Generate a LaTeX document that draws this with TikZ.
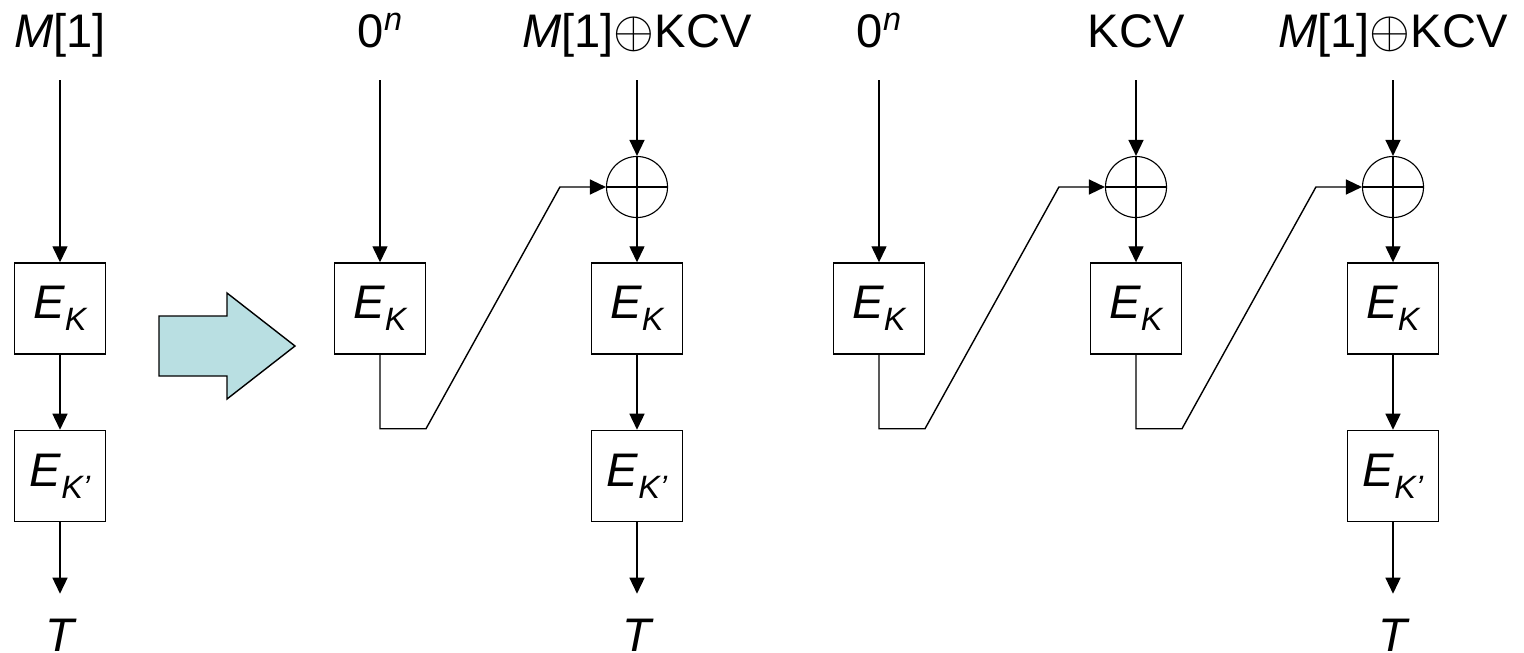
\documentclass[tikz,border=0pt]{standalone}
\usepackage{fontspec}
\setmainfont{Liberation Sans}
\usepackage{xcolor}
\usepackage{graphicx}
\usetikzlibrary{arrows.meta, positioning}

\definecolor{arrowfill}{RGB}{185,223,226}
\newcommand{\bigfont}{\fontsize{33.5}{40}\selectfont}
\newcommand{\subfont}{\fontsize{23}{26}\selectfont}
\newcommand{\Ekey}[1]{{\itshape E}\raisebox{-8.5pt}{\subfont\itshape #1}}
\newcommand{\Mone}{{\itshape M}[1]}
\newcommand{\zeron}{0\raisebox{12pt}{\subfont\itshape n}}
\newcommand{\xorsign}{\scalebox{1.5}{$\oplus$}}

\begin{document}
\begin{tikzpicture}[x=0.025cm, y=-0.025cm,
    cipher/.style={rectangle, draw, line width=1pt, minimum size=2.275cm, inner sep=0pt, font=\bigfont},
    xorop/.style={circle, draw, line width=0.8pt, minimum size=1.525cm, inner sep=0pt,
        path picture={\draw[line width=0.8pt] (path picture bounding box.north) -- (path picture bounding box.south)
            (path picture bounding box.west) -- (path picture bounding box.east);}},
    inlabel/.style={anchor=base, inner sep=0pt, text depth=0.3cm, font=\bigfont},
    outlabel/.style={anchor=base, inner sep=0pt, text height=0.85cm, font=\bigfont\itshape},
    wire/.style={line width=1pt, -{Triangle[length=0.4cm, width=0.375cm]}},
    bigarrow/.style={draw, line width=1pt, fill=arrowfill, line join=miter}
]
    \useasboundingbox (0,0) rectangle (1524,652);

    % Inputs
    \node[inlabel] (in1) at (60,47) {\Mone};
    \node[inlabel] (in2) at (380,47) {\zeron};
    \node[inlabel] (in3) at (637,47) {\Mone\xorsign KCV};
    \node[inlabel] (in4) at (879,47) {\zeron};
    \node[inlabel] (in5) at (1136,47) {KCV};
    \node[inlabel] (in6) at (1393,47) {\Mone\xorsign KCV};

    % XOR gates
    \node[xorop] (x3) at (637,187) {};
    \node[xorop] (x5) at (1136,187) {};
    \node[xorop] (x6) at (1393,187) {};

    % Block ciphers
    \node[cipher] (k1) at (60,308.5) {\Ekey{K}};
    \node[cipher] (k2) at (380,308.5) {\Ekey{K}};
    \node[cipher] (k3) at (637,308.5) {\Ekey{K}};
    \node[cipher] (k4) at (879,308.5) {\Ekey{K}};
    \node[cipher] (k5) at (1136,308.5) {\Ekey{K}};
    \node[cipher] (k6) at (1393,308.5) {\Ekey{K}};
    \node[cipher, below=1.875cm of k1] (kk1) {\Ekey{K’}};
    \node[cipher, below=1.875cm of k3] (kk3) {\Ekey{K’}};
    \node[cipher, below=1.875cm of k6] (kk6) {\Ekey{K’}};

    % Tags
    \node[outlabel] (t1) at (60,651) {T};
    \node[outlabel] (t3) at (637,651) {T};
    \node[outlabel] (t6) at (1393,651) {T};

    % Plain inputs
    \draw[wire, shorten <=0.525cm] (in1.south) -- (k1.north);
    \draw[wire, shorten <=0.525cm] (in2.south) -- (k2.north);
    \draw[wire, shorten <=0.525cm] (in4.south) -- (k4.north);
    \draw[wire, shorten <=0.525cm] (in3.south) -- (x3.north);
    \draw[wire, shorten <=0.525cm] (in5.south) -- (x5.north);
    \draw[wire, shorten <=0.525cm] (in6.south) -- (x6.north);
    \draw[wire] (x3.south) -- (k3.north);
    \draw[wire] (x5.south) -- (k5.north);
    \draw[wire] (x6.south) -- (k6.north);

    % Feed into the next column
    \draw[wire, line join=miter] (k2.south) -- ++(0,74) -- ++(46,0) -- ([xshift=-1.15cm]x3.west) -- (x3.west);
    \draw[wire, line join=miter] (k4.south) -- ++(0,74) -- ++(46,0) -- ([xshift=-1.15cm]x5.west) -- (x5.west);
    \draw[wire, line join=miter] (k5.south) -- ++(0,74) -- ++(46,0) -- ([xshift=-1.15cm]x6.west) -- (x6.west);

    % Outputs
    \draw[wire] (k1.south) -- (kk1.north);
    \draw[wire] (k3.south) -- (kk3.north);
    \draw[wire] (k6.south) -- (kk6.north);
    \draw[wire, shorten >=0.575cm] (kk1.south) -- (t1.north);
    \draw[wire, shorten >=0.575cm] (kk3.south) -- (t3.north);
    \draw[wire, shorten >=0.575cm] (kk6.south) -- (t6.north);

    % Transformation arrow
    \draw[bigarrow] (159,316) -- (227,316) -- (227,293) -- (295,346) -- (227,399) -- (227,376) -- (159,376) -- cycle;
\end{tikzpicture}
\end{document}
